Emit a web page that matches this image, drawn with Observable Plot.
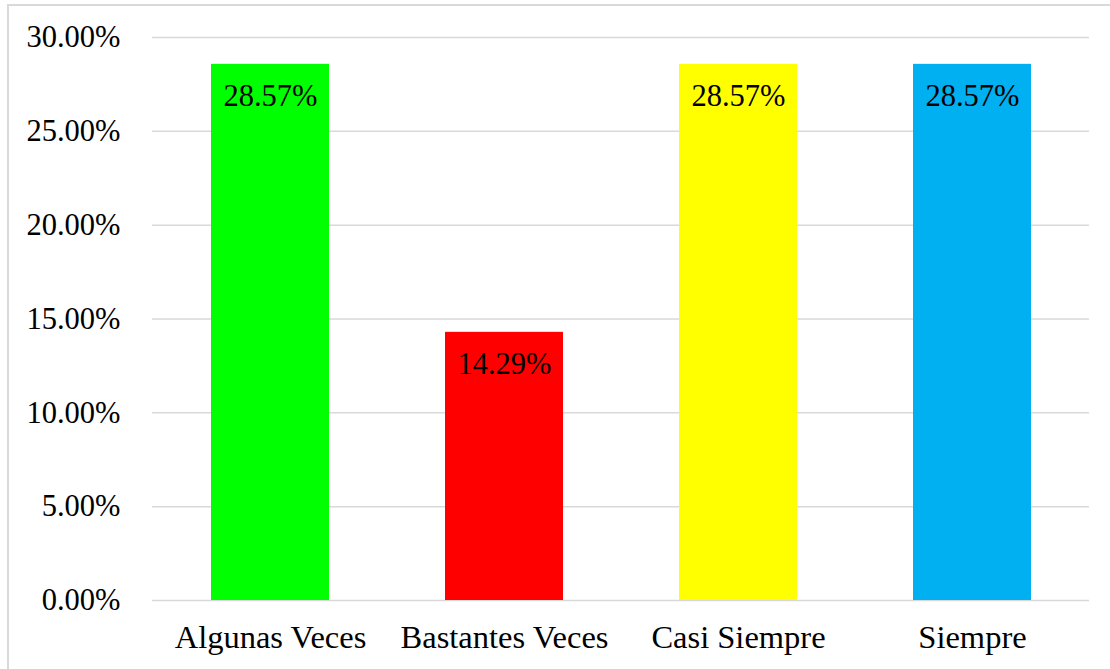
<!DOCTYPE html>
<html>
<head>
<meta charset="utf-8">
<script src="https://cdn.jsdelivr.net/npm/d3@7"></script>
<script src="https://cdn.jsdelivr.net/npm/@observablehq/plot@0.6"></script>
<style>
  html, body { margin: 0; padding: 0; background: #fff; overflow: hidden; }
  #wrap { position: relative; width: 1110px; height: 669px; }
  #frame { position: absolute; left: 7px; top: 4px; width: 1120px; height: 700px; border: 2px solid #d9d9d9; box-sizing: border-box; }
  #chart { position: absolute; left: 0; top: 0; }
</style>
</head>
<body>
<div id="wrap">
  <div id="frame"></div>
  <div id="chart"></div>
</div>
<script>
const categories = ["Algunas Veces", "Bastantes Veces", "Casi Siempre", "Siempre"];
const values = [0.2857, 0.1429, 0.2857, 0.2857];
const colors = ["#00ff00", "#ff0000", "#ffff00", "#00b0f0"];
const yTicks = [0, 0.05, 0.10, 0.15, 0.20, 0.25, 0.30];

const data = categories.map((c, i) => ({ category: c, value: values[i], color: colors[i] }));
const fmt = v => (v * 100).toFixed(2) + "%";

const chart = Plot.plot({
  width: 1110,
  height: 669,
  marginLeft: 152,
  marginRight: 21,
  marginTop: 37,
  marginBottom: 69,
  style: { fontFamily: "'Liberation Serif', 'Times New Roman', serif", background: "transparent", color: "#000" },
  x: { domain: categories, paddingInner: 0.496, paddingOuter: 0.248, label: null },
  y: { domain: [0, 0.3], label: null },
  marks: [
    Plot.gridY(yTicks, { stroke: "#d9d9d9", strokeOpacity: 1, strokeWidth: 1.5 }),
    Plot.barY(data, { x: "category", y: "value", fill: d => d.color }),
    Plot.text(data, { x: "category", y: "value", text: d => fmt(d.value), dy: 31.5, lineAnchor: "middle", fontSize: 30.5, fill: "#000" }),
    Plot.axisY(yTicks, { tickFormat: fmt, tickSize: 0, tickPadding: 32, fontSize: 30.5, label: null }),
    Plot.axisX({ tickSize: 0, tickPadding: 24, fontSize: 32.5, label: null })
  ]
});
document.getElementById("chart").appendChild(chart);
</script>
</body>
</html>
